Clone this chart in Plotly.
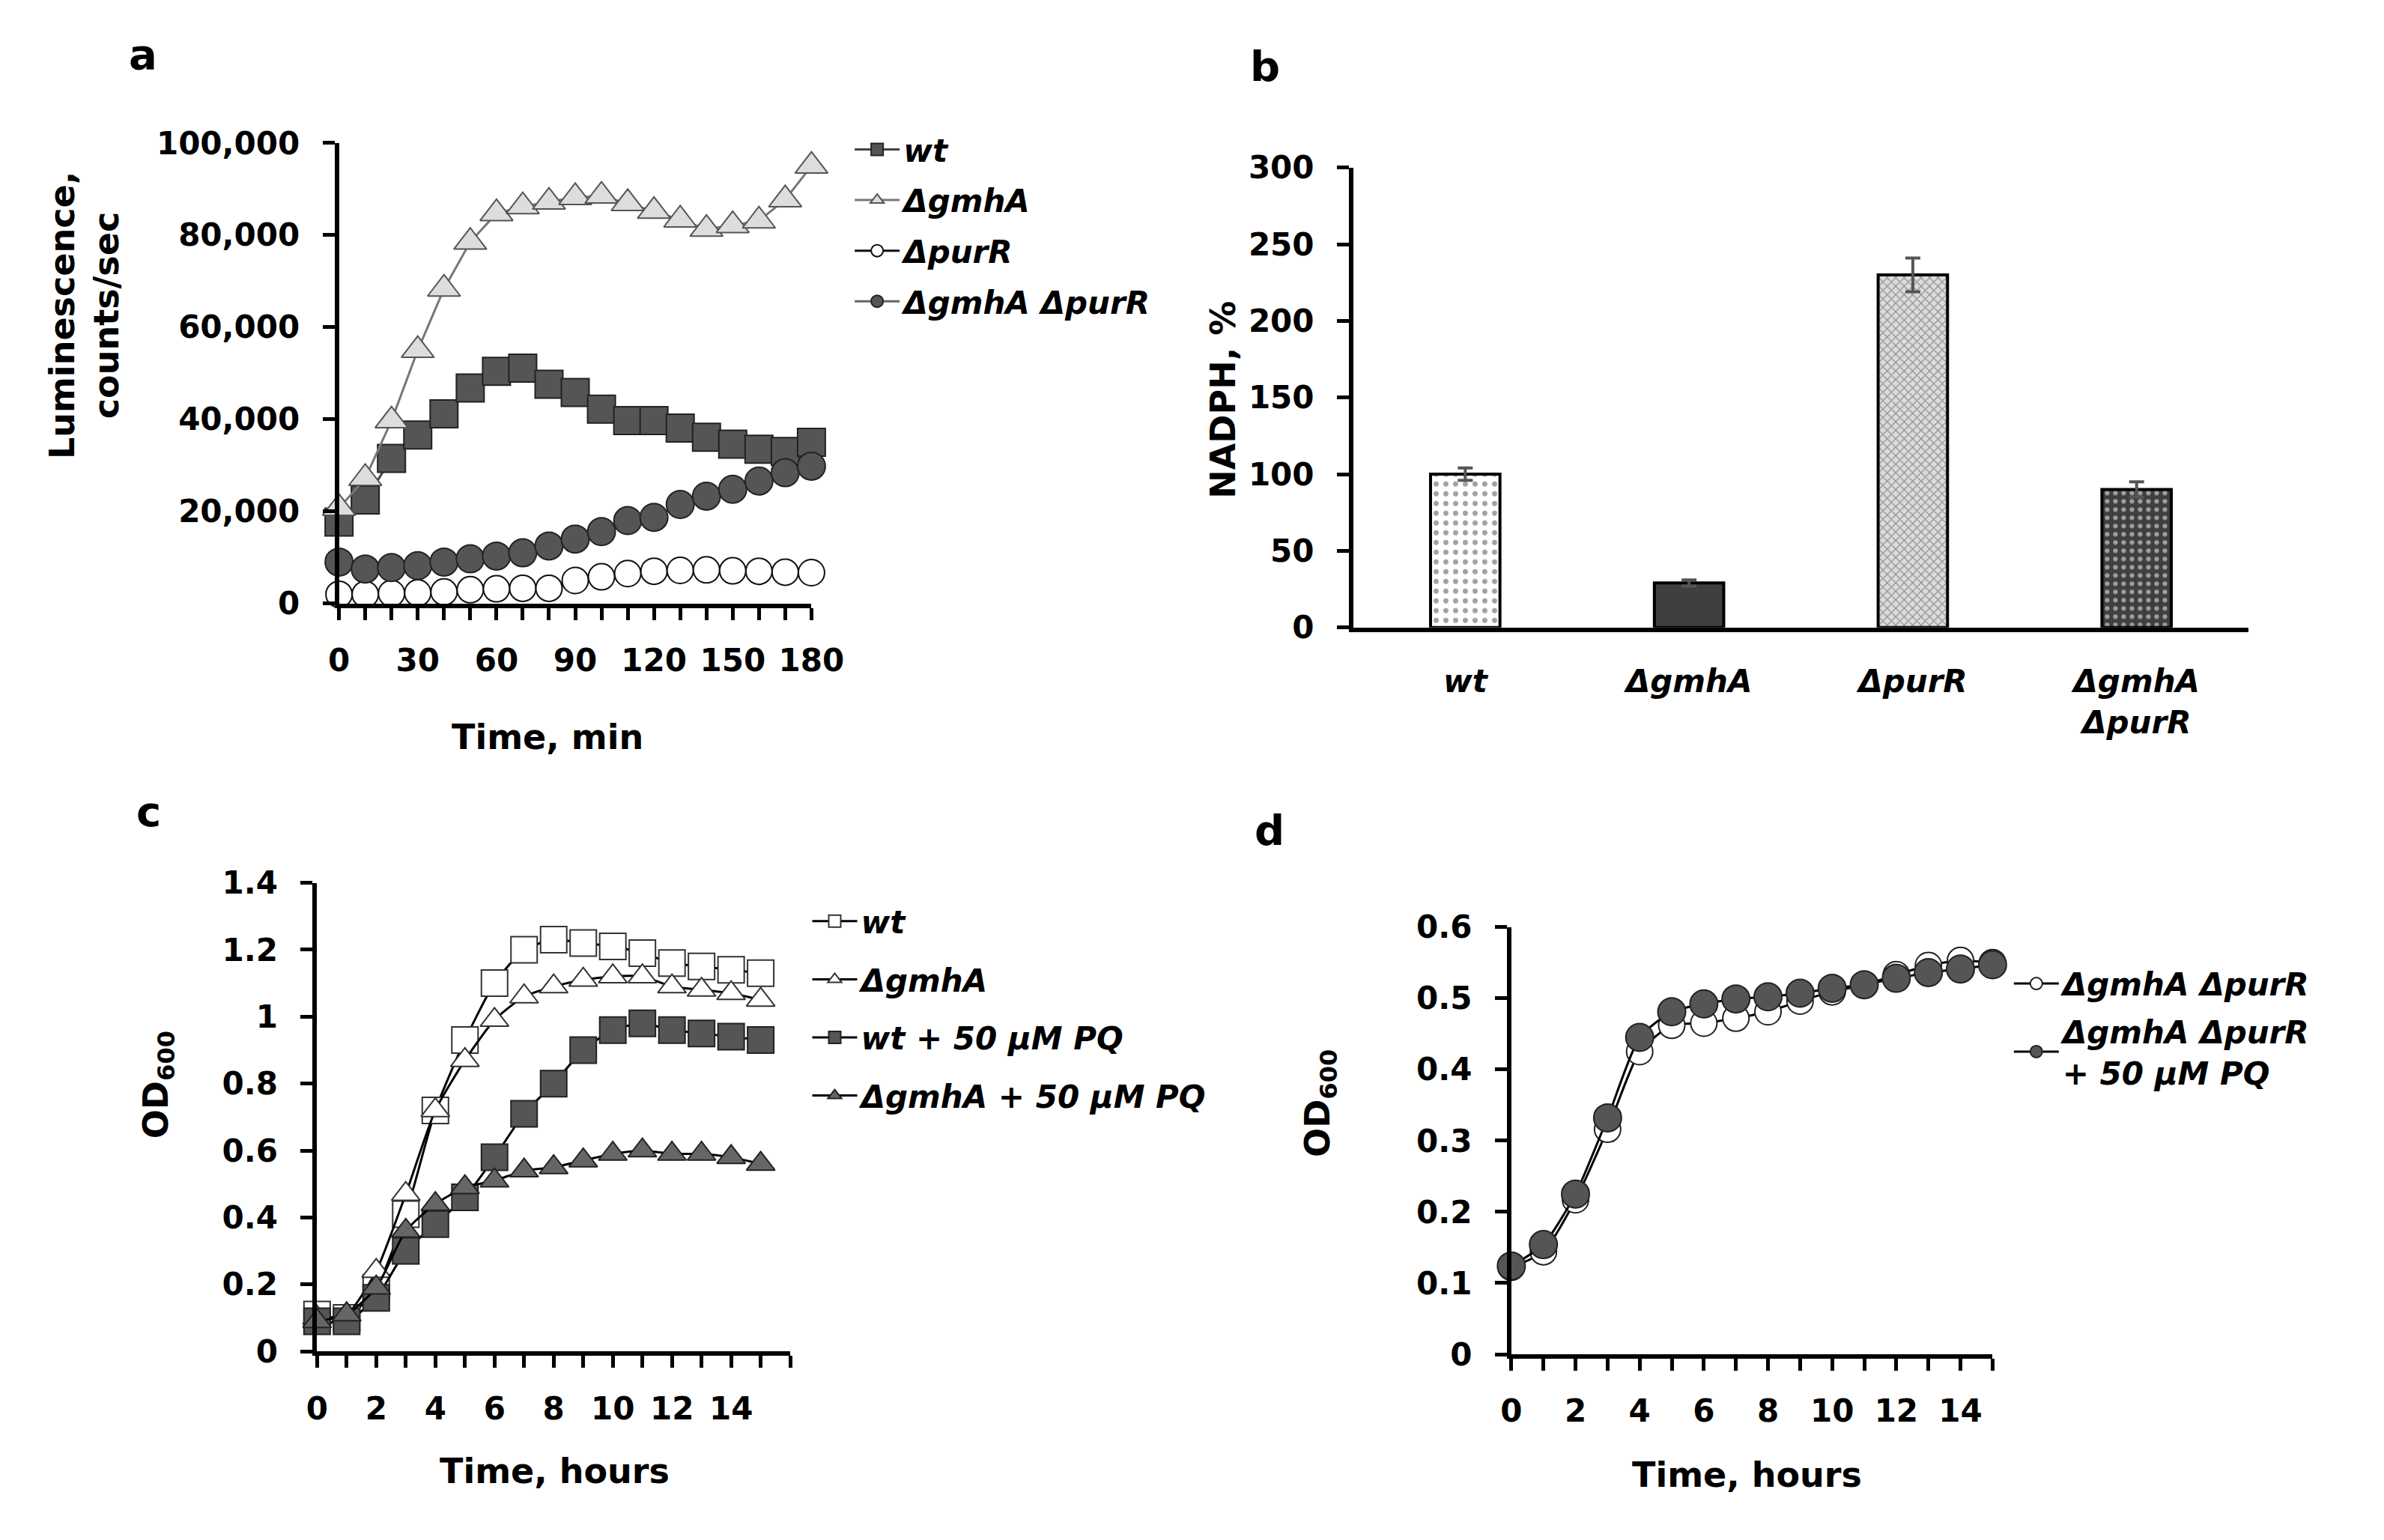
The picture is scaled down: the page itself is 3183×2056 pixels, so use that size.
import plotly.graph_objects as go

# ---- panel a: luminescence ----
time_min = [0, 10, 20, 30, 40, 50, 60, 70, 80, 90, 100, 110, 120, 130, 140, 150, 160, 170, 180]
lum_wt = [17700, 22500, 31500, 36600, 41200, 46800, 50400, 51100, 47600, 45800, 42200, 39700, 39700,
          38100, 36100, 34600, 33500, 33000, 35000]
lum_gmhA = [20700, 27200, 39700, 55000, 68300, 78500, 84700, 86200, 87200, 88200, 88500, 86900, 85200,
            83300, 81300, 82100, 83100, 87700, 95000]
lum_purR = [2000, 2000, 2200, 2300, 2500, 3000, 3200, 3300, 3300, 5000, 5800, 6500, 7000,
            7200, 7300, 7100, 7000, 6800, 6700]
lum_double = [9000, 7500, 7800, 8200, 9000, 9700, 10300, 11000, 12500, 14000, 15600, 18000, 18700,
              21500, 23300, 24800, 26600, 28400, 29800]

# ---- panel b: NADPH ----
strains = ["<i>wt</i>", "<i>ΔgmhA</i>", "<i>ΔpurR</i>", "<i>ΔgmhA<br>ΔpurR</i>"]
nadph = [100, 29, 230, 90]
nadph_err = [4, 2, 11, 5]

# ---- panel c: growth ----
hours = [0, 1, 2, 3, 4, 5, 6, 7, 8, 9, 10, 11, 12, 13, 14, 15]
od_wt = [0.11, 0.10, 0.19, 0.41, 0.72, 0.93, 1.10, 1.20, 1.23, 1.22, 1.21, 1.19, 1.16, 1.15, 1.14, 1.13]
od_gmhA = [0.10, 0.11, 0.24, 0.47, 0.72, 0.87, 0.99, 1.06, 1.09, 1.11, 1.12, 1.12, 1.09, 1.08, 1.07, 1.05]
od_wt_pq = [0.09, 0.09, 0.16, 0.30, 0.38, 0.46, 0.58, 0.71, 0.80, 0.90, 0.96, 0.98, 0.96, 0.95, 0.94, 0.93]
od_gmhA_pq = [0.09, 0.11, 0.19, 0.36, 0.44, 0.49, 0.51, 0.54, 0.55, 0.57, 0.59, 0.60, 0.59, 0.59, 0.58, 0.56]

# ---- panel d: double mutant growth ----
od_double = [0.122, 0.144, 0.217, 0.316, 0.425, 0.462, 0.465, 0.472, 0.481, 0.496, 0.509, 0.519,
             0.533, 0.546, 0.553, 0.550]
od_double_pq = [0.124, 0.154, 0.225, 0.332, 0.445, 0.481, 0.492, 0.499, 0.502, 0.507, 0.514, 0.519,
                0.528, 0.536, 0.541, 0.547]

W, H = 3183, 2056
FONT = "DejaVu Sans"
DARK = "#555555"


def px_x(v):
    return v / W


def px_y(v):
    return 1 - v / H


fig = go.Figure()

# panel a traces
fig.add_trace(go.Scatter(x=time_min, y=lum_wt, name="wt", mode="lines+markers", legend="legend",
                         legendgroup="a1", line=dict(color="#444444", width=3),
                         marker=dict(symbol="square", size=37, color=DARK, line=dict(color="#222222", width=2)),
                         cliponaxis=False, xaxis="x", yaxis="y"))
fig.add_trace(go.Scatter(x=time_min, y=lum_gmhA, name="ΔgmhA", mode="lines+markers", legend="legend",
                         legendgroup="a2", line=dict(color="#777777", width=3),
                         marker=dict(symbol="triangle-up", size=38, color="#dddddd", line=dict(color="#555555", width=2)),
                         cliponaxis=False, xaxis="x", yaxis="y"))
fig.add_trace(go.Scatter(x=time_min, y=lum_purR, name="ΔpurR", mode="lines+markers", legend="legend",
                         legendgroup="a3", line=dict(color="#111111", width=3),
                         marker=dict(symbol="circle", size=35, color="white", line=dict(color="#111111", width=2)),
                         cliponaxis=False, xaxis="x", yaxis="y"))
fig.add_trace(go.Scatter(x=time_min, y=lum_double, name="ΔgmhA ΔpurR", mode="lines+markers", legend="legend",
                         legendgroup="a4", line=dict(color="#666666", width=3),
                         marker=dict(symbol="circle", size=37, color=DARK, line=dict(color="#222222", width=2)),
                         cliponaxis=False, xaxis="x", yaxis="y"))

# panel b bars
fig.add_trace(go.Bar(x=strains, y=nadph, showlegend=False, xaxis="x2", yaxis="y2",
                     error_y=dict(type="data", array=nadph_err, color="#555555", thickness=4, width=10),
                     marker=dict(color=["white", "#3f3f3f", "#dcdcdc", "#3f3f3f"],
                                 line=dict(color="black", width=4),
                                 pattern=dict(shape=[".", "", "x", "."],
                                              fgcolor=["#222222", "#3f3f3f", "#555555", "white"],
                                              bgcolor=["white", "#3f3f3f", "#e8e8e8", "#3f3f3f"],
                                              size=[13, 10, 8, 11], solidity=[0.22, 0.3, 0.3, 0.25],
                                              fillmode="overlay"))))

# panel c traces
fig.add_trace(go.Scatter(x=hours, y=od_wt, name="wt", mode="lines+markers", legend="legend2",
                         legendgroup="c1", line=dict(color="black", width=3, shape="spline", smoothing=0.6),
                         marker=dict(symbol="square", size=35, color="white", line=dict(color="#333333", width=2)),
                         cliponaxis=False, xaxis="x3", yaxis="y3"))
fig.add_trace(go.Scatter(x=hours, y=od_gmhA, name="ΔgmhA", mode="lines+markers", legend="legend2",
                         legendgroup="c2", line=dict(color="black", width=3, shape="spline", smoothing=0.6),
                         marker=dict(symbol="triangle-up", size=33, color="white", line=dict(color="#333333", width=2)),
                         cliponaxis=False, xaxis="x3", yaxis="y3"))
fig.add_trace(go.Scatter(x=hours, y=od_wt_pq, name="wt + 50 µM PQ", mode="lines+markers", legend="legend2",
                         legendgroup="c3", line=dict(color="black", width=3, shape="spline", smoothing=0.6),
                         marker=dict(symbol="square", size=35, color=DARK, line=dict(color="#222222", width=2)),
                         cliponaxis=False, xaxis="x3", yaxis="y3"))
fig.add_trace(go.Scatter(x=hours, y=od_gmhA_pq, name="ΔgmhA + 50 µM PQ", mode="lines+markers", legend="legend2",
                         legendgroup="c4", line=dict(color="black", width=3, shape="spline", smoothing=0.6),
                         marker=dict(symbol="triangle-up", size=33, color="#666666", line=dict(color="#222222", width=2)),
                         cliponaxis=False, xaxis="x3", yaxis="y3"))

# panel d traces
fig.add_trace(go.Scatter(x=hours, y=od_double, name="ΔgmhA ΔpurR", mode="lines+markers", legend="legend3",
                         legendgroup="d1", line=dict(color="black", width=3, shape="spline", smoothing=0.6),
                         marker=dict(symbol="circle", size=35, color="white", line=dict(color="#222222", width=2)),
                         cliponaxis=False, xaxis="x4", yaxis="y4"))
fig.add_trace(go.Scatter(x=hours, y=od_double_pq, name="ΔgmhA ΔpurR<br>+ 50 µM PQ", mode="lines+markers",
                         legend="legend3", legendgroup="d2",
                         line=dict(color="black", width=3, shape="spline", smoothing=0.6),
                         marker=dict(symbol="circle", size=37, color=DARK, line=dict(color="#222222", width=2)),
                         cliponaxis=False, xaxis="x4", yaxis="y4"))

tickfont = dict(family=FONT, size=42, color="black", weight="bold")
axis_common = dict(showline=True, linecolor="black", linewidth=6, showgrid=False, zeroline=False,
                   ticks="outside", tickcolor="black", tickwidth=5, ticklen=16, tickfont=tickfont)
legend_font = dict(family=FONT, size=42, color="black", weight="bold", style="italic")

fig.update_layout(
    width=W - 16, height=H - 16,
    margin=dict(l=0, r=0, t=0, b=0),
    paper_bgcolor="white", plot_bgcolor="white",
    bargap=0.69,
    xaxis=dict(domain=[px_x(440), px_x(1086)], anchor="y", range=[0, 180], tickvals=[0, 30, 60, 90, 120, 150, 180],
               minor=dict(dtick=10, tick0=0, ticks="outside", ticklen=16, tickwidth=5, tickcolor="black"),
               ticklabelstandoff=18, **axis_common),
    yaxis=dict(domain=[px_y(799), px_y(164)], anchor="x", range=[0, 100000], dtick=20000, tickformat=",d",
               ticklabelstandoff=22, **axis_common),
    xaxis2=dict(domain=[px_x(1827), px_x(3051)], anchor="y2", showline=True, linecolor="black", linewidth=6,
                showgrid=False, zeroline=False, ticks="",
                tickfont=dict(family=FONT, size=42, color="black", weight="bold", style="italic"),
                ticklabelstandoff=30),
    yaxis2=dict(domain=[px_y(832), px_y(198)], anchor="x2", range=[0, 300], dtick=50,
                ticklabelstandoff=22, **axis_common),
    xaxis3=dict(domain=[px_x(410), px_x(1057)], anchor="y3", range=[0, 16], tickvals=[0, 2, 4, 6, 8, 10, 12, 14],
                minor=dict(dtick=1, tick0=0, ticks="outside", ticklen=16, tickwidth=5, tickcolor="black"),
                ticklabelstandoff=18, **axis_common),
    yaxis3=dict(domain=[px_y(1830), px_y(1184)], anchor="x3", range=[0, 1.4], dtick=0.2,
                ticklabelstandoff=22, **axis_common),
    xaxis4=dict(domain=[px_x(2043), px_x(2701)], anchor="y4", range=[0, 15], tickvals=[0, 2, 4, 6, 8, 10, 12, 14],
                minor=dict(dtick=1, tick0=0, ticks="outside", ticklen=16, tickwidth=5, tickcolor="black"),
                ticklabelstandoff=18, **axis_common),
    yaxis4=dict(domain=[px_y(1834), px_y(1245)], anchor="x4", range=[0, 0.6], dtick=0.1,
                ticklabelstandoff=22, **axis_common),
    legend=dict(x=px_x(1140), y=px_y(138), xanchor="left", yanchor="top", font=legend_font,
                bgcolor="rgba(0,0,0,0)", tracegroupgap=10, itemwidth=60),
    legend2=dict(x=px_x(1082), y=px_y(1202), xanchor="left", yanchor="top", font=legend_font,
                 bgcolor="rgba(0,0,0,0)", tracegroupgap=20, itemwidth=60),
    legend3=dict(x=px_x(2725), y=px_y(1288), xanchor="left", yanchor="top", font=legend_font,
                 bgcolor="rgba(0,0,0,0)", tracegroupgap=6, itemwidth=60),
)

title_font = dict(family=FONT, size=46, color="black", weight="bold")
letter_font = dict(family=FONT, size=56, color="black", weight="bold")
annotations = [
    dict(text="a", x=px_x(172), y=px_y(42), font=letter_font),
    dict(text="b", x=px_x(1706), y=px_y(58), font=letter_font),
    dict(text="c", x=px_x(180), y=px_y(1086), font=letter_font),
    dict(text="d", x=px_x(1712), y=px_y(1112), font=letter_font),
    dict(text="Luminescence,<br>counts/sec", x=px_x(92), y=px_y(402), textangle=-90, font=title_font),
    dict(text="Time, min", x=px_x(725), y=px_y(983), font=title_font),
    dict(text="NADPH, %", x=px_x(1648), y=px_y(518), textangle=-90, font=title_font),
    dict(text="OD<sub>600</sub>", x=px_x(193), y=px_y(1462), textangle=-90, font=title_font),
    dict(text="Time, hours", x=px_x(735), y=px_y(1995), font=title_font),
    dict(text="OD<sub>600</sub>", x=px_x(1782), y=px_y(1488), textangle=-90, font=title_font),
    dict(text="Time, hours", x=px_x(2365), y=px_y(2000), font=title_font),
]
for a in annotations:
    a.update(xref="paper", yref="paper", showarrow=False, xanchor="center", yanchor="middle")
fig.update_layout(annotations=annotations)

fig.write_html("out.html")
